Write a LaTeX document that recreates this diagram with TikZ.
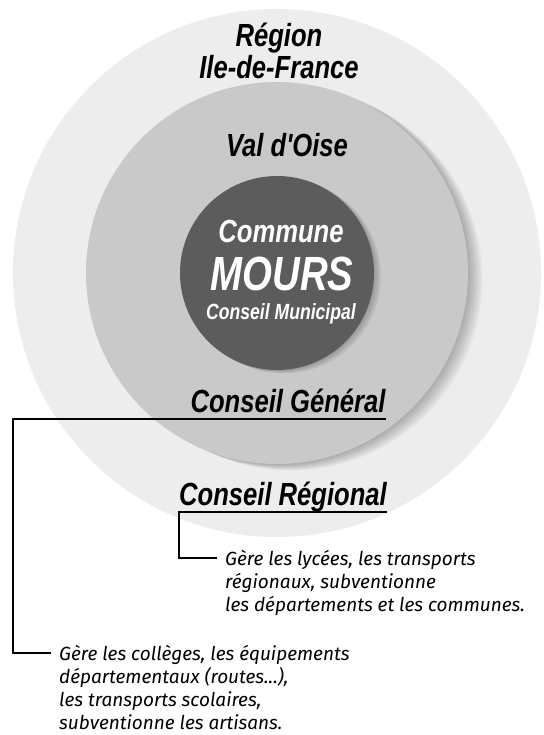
\documentclass[tikz,border=0pt]{standalone}
\usepackage{fontspec}
\usepackage{tikz}
\usetikzlibrary{calc}
\definecolor{lg}{HTML}{EDEDED}
\definecolor{mg}{HTML}{C9C9C9}
\definecolor{dg}{HTML}{5C5C5C}
\newfontfamily\headfont{Liberation Sans}[FakeStretch=0.8]
\newfontfamily\descfont{Fira Sans}
\tikzset{
  disk/.style={circle, inner sep=0pt, draw=none},
  head/.style={font=\headfont\bfseries\itshape\fontsize{32}{32}\selectfont, inner xsep=0pt, inner ysep=6pt, text depth=0pt, anchor=base},
  inhead/.style={head, white, inner ysep=0pt},
  desc/.style={font=\descfont\itshape\fontsize{19}{23}\selectfont, align=left, inner sep=0pt, anchor=north west},
  link/.style={draw=black, line width=1.8pt, shorten >=8pt},
}

\begin{document}
\begin{tikzpicture}[x=1pt, y=1pt]
  \useasboundingbox (0,0) rectangle (543,735);
  \fill[white] (0,0) rectangle (543,735);

  \coordinate (c) at (277,462);
  \node[disk, fill=lg, minimum size=528pt] (region) at (c) {};
  \foreach \s in {1,...,8}
    \fill[black, opacity=0.035] ($(c)+(\s*1.8,-\s*0.8)$) circle (191pt); % shadow
  \node[disk, fill=mg, minimum size=382pt] (dept) at (c) {};
  \foreach \s in {1,...,6}
    \fill[black, opacity=0.04] ($(c)+(\s*1.2,-\s*0.6)$) circle (97pt); % shadow
  \node[disk, fill=dg, minimum size=194pt] (commune) at (c) {};

  \node[head, align=center] (regname) at (279,656) {Région\\Ile-de-France};
  \node[head] (deptname) at (287,578) {Val d'Oise};
  \node[inhead] (comname) at (281,492) {Commune};
  \node[inhead, font=\headfont\bfseries\itshape\fontsize{48}{48}\selectfont] (mours) at (282,444) {MOURS};
  \node[inhead, font=\headfont\bfseries\itshape\fontsize{22}{22}\selectfont] (municipal) at (281,415) {Conseil Municipal};

  \node[head] (general) at (288,322) {Conseil Général};
  \node[head] (regional) at (283,229) {Conseil Régional};

  \node[desc] (descreg) at (225,185) {Gère les lycées, les transports\\régionaux, subventionne\\les départements et les communes.};
  \node[desc] (descgen) at (59,90) {Gère les collèges, les équipements\\départementaux (routes...),\\les transports scolaires,\\subventionne les artisans.};

  \draw[link] (regional.south east) -- (regional.south west) |- ([yshift=-8pt]descreg.north west);
  \draw[link] (general.south east) -- (general.south east -| region.west) |- ([yshift=-8pt]descgen.north west);
\end{tikzpicture}
\end{document}
